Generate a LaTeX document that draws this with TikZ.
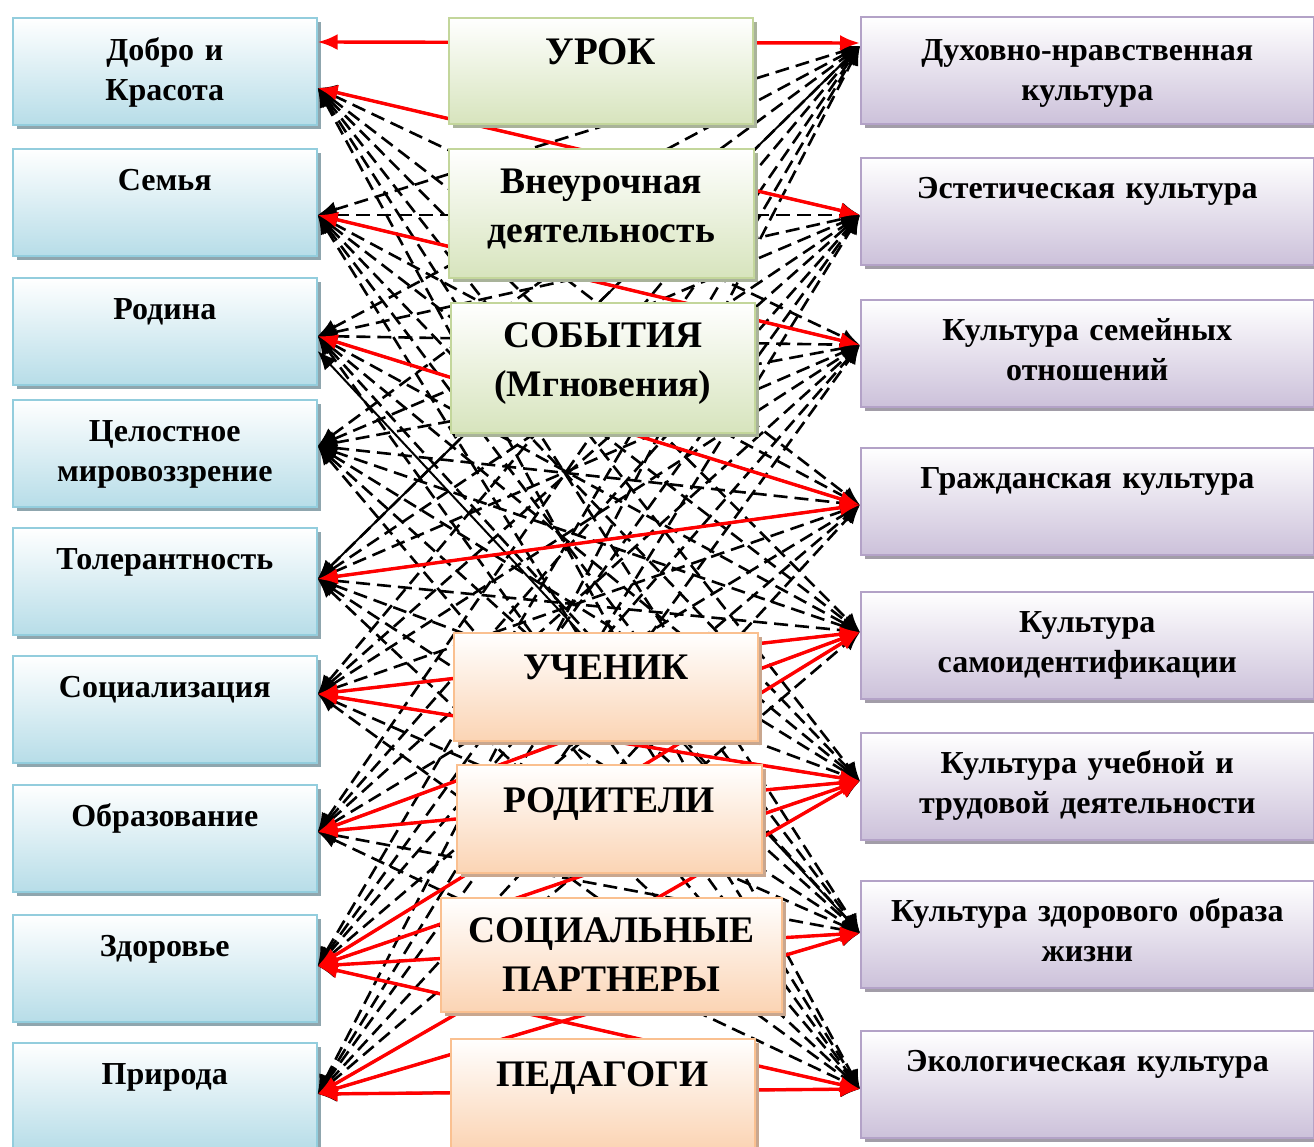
\documentclass[tikz,border=0pt]{standalone}
\usepackage{fontspec}
\setmainfont{Liberation Serif}
\usetikzlibrary{arrows.meta,positioning,shadows}
\definecolor{valuefill}{HTML}{B7DDE8}
\definecolor{valueline}{HTML}{93CDDD}
\definecolor{valueshadow}{HTML}{8FA6AE}
\definecolor{culturefill}{HTML}{CCC1DA}
\definecolor{cultureline}{HTML}{B3A2C7}
\definecolor{cultureshadow}{HTML}{A29DA8}
\definecolor{formfill}{HTML}{D7E4BD}
\definecolor{formline}{HTML}{C3D69B}
\definecolor{formshadow}{HTML}{A9B39A}
\definecolor{actorfill}{HTML}{FBD4B4}
\definecolor{actorline}{HTML}{FAC090}
\definecolor{actorshadow}{HTML}{C9A78F}
\definecolor{linkred}{HTML}{FF0000}
\tikzset{
    box/.style = {draw, line width=1.6pt, inner sep=0pt, anchor=north west, top color=white},
    value/.style = {box, draw=valueline, bottom color=valuefill, minimum width=304pt, minimum height=107pt,
        drop shadow={shadow xshift=4pt, shadow yshift=-4pt, fill=valueshadow, opacity=1}},
    culture/.style = {box, draw=cultureline, bottom color=culturefill, minimum width=453pt, minimum height=107pt,
        drop shadow={shadow xshift=4pt, shadow yshift=-4pt, fill=cultureshadow, opacity=1}},
    form/.style = {box, draw=formline, bottom color=formfill,
        drop shadow={shadow xshift=4pt, shadow yshift=-4pt, fill=formshadow, opacity=1}},
    actor/.style = {box, draw=actorline, bottom color=actorfill,
        drop shadow={shadow xshift=4pt, shadow yshift=-4pt, fill=actorshadow, opacity=1}},
    vtext/.style = {anchor=base, text width=300pt, align=center, inner sep=0pt, font=\bfseries\fontsize{32}{40}\selectfont},
    ctext/.style = {anchor=base, text width=440pt, align=center, inner sep=0pt, font=\bfseries\fontsize{32}{40}\selectfont},
    mtext/.style = {anchor=base, text width=340pt, align=center, inner sep=0pt, font=\bfseries\fontsize{37.5}{49}\selectfont},
    link/.style = {line width=2.6pt, dash pattern=on 14pt off 7pt, {Latex[length=19pt,width=16pt]}-{Latex[length=19pt,width=16pt]}},
    solidlink/.style = {line width=2pt, {Latex[length=19pt,width=16pt]}-{Latex[length=19pt,width=16pt]}},
    redlink/.style = {linkred, line width=3.4pt, {Latex[length=20pt,width=16pt]}-{Latex[length=20pt,width=16pt]}}
}

\begin{document}
\begin{tikzpicture}[x=1pt,y=-1pt]
    \useasboundingbox (0,0) rectangle (1314,1146);
    % Values (left column)
    \node[value] (l1) at (12,17) {};
    \node[value] (l2) at (12,148) {};
    \node[value] (l3) at (12,277) {};
    \node[value] (l4) at (12,399) {};
    \node[value] (l5) at (12,527) {};
    \node[value] (l6) at (12,655) {};
    \node[value] (l7) at (12,784) {};
    \node[value] (l8) at (12,914) {};
    \node[value] (l9) at (12,1042) {};
    \node[vtext] (l1t) at ([yshift=-43pt]l1.north) {Добро и\\Красота};
    \node[vtext] (l2t) at ([yshift=-42pt]l2.north) {Семья};
    \node[vtext] (l3t) at ([yshift=-42pt]l3.north) {Родина};
    \node[vtext] (l4t) at ([yshift=-42pt]l4.north) {Целостное\\мировоззрение};
    \node[vtext] (l5t) at ([yshift=-42pt]l5.north) {Толерантность};
    \node[vtext] (l6t) at ([yshift=-42pt]l6.north) {Социализация};
    \node[vtext] (l7t) at ([yshift=-42pt]l7.north) {Образование};
    \node[vtext] (l8t) at ([yshift=-42pt]l8.north) {Здоровье};
    \node[vtext] (l9t) at ([yshift=-42pt]l9.north) {Природа};
    % Cultures (right column)
    \node[culture] (r1) at (860,16) {};
    \node[culture] (r2) at (860,157) {};
    \node[culture] (r3) at (860,299) {};
    \node[culture] (r4) at (860,447) {};
    \node[culture] (r5) at (860,591) {};
    \node[culture] (r6) at (860,732) {};
    \node[culture] (r7) at (860,880) {};
    \node[culture] (r8) at (860,1030) {};
    \node[ctext] (r1t) at ([yshift=-44pt]r1.north) {Духовно-нравственная\\культура};
    \node[ctext] (r2t) at ([yshift=-41pt]r2.north) {Эстетическая культура};
    \node[ctext] (r3t) at ([yshift=-41pt]r3.north) {Культура семейных\\отношений};
    \node[ctext] (r4t) at ([yshift=-41pt]r4.north) {Гражданская культура};
    \node[ctext] (r5t) at ([yshift=-41pt]r5.north) {Культура\\самоидентификации};
    \node[ctext] (r6t) at ([yshift=-41pt]r6.north) {Культура учебной и\\трудовой деятельности};
    \node[ctext] (r7t) at ([yshift=-41pt]r7.north) {Культура здорового образа\\жизни};
    \node[ctext] (r8t) at ([yshift=-41pt]r8.north) {Экологическая культура};
    % Arrow ends
    \foreach \i/\y in {1/88,2/215,3/336,4/446,5/579,6/694,7/832,8/966,9/1094}
        \coordinate (L\i) at (l\i.east |- 0,\y);
    \foreach \j/\y in {1/46,2/215,3/345,4/505,5/632,6/781,7/933,8/1089}
        \coordinate (R\j) at (r\j.west |- 0,\y);
    \coordinate (L0) at (l1.east |- 0,42);
    \coordinate (R0) at (r1.west |- 0,43);
    \coordinate (L3b) at (l3.east |- 0,351);
    % Dashed links between every value and culture
    \foreach \i in {1,...,9}
        \foreach \j in {1,...,8}
            {\ifnum\i\j=11 \else \draw[link] (L\i) -- (R\j); \fi}
    \draw[solidlink] (L5) -- (R1);
    \draw[solidlink] (L3b) -- (R7);
    % Red links
    \draw[redlink] (L0) -- (R0);
    \foreach \i/\j in {1/2,2/3,3/4,5/4,6/5,6/6,7/5,7/6,8/5,8/6,8/7,8/8,9/6,9/7,9/8}
        \draw[redlink] (L\i) -- (R\j);
    % Forms and actors (middle column)
    \node[form, minimum width=304pt, minimum height=106pt] (m1) at (448,17) {};
    \node[form, minimum width=305pt, minimum height=129pt] (m2) at (448,148) {};
    \node[form, minimum width=304pt, minimum height=130pt] (m3) at (450,302) {};
    \node[actor, minimum width=304pt, minimum height=108pt] (m4) at (453,632) {};
    \node[actor, minimum width=305pt, minimum height=108pt] (m5) at (456,764) {};
    \node[actor, minimum width=341pt, minimum height=114pt] (m6) at (440,897) {};
    \node[actor, minimum width=304pt, minimum height=110pt] (m7) at (450,1038) {};
    \node[mtext, font=\bfseries\fontsize{39}{49}\selectfont] (m1t) at ([yshift=-47pt]m1.north) {УРОК};
    \node[mtext] (m2t) at ([yshift=-45pt]m2.north) {Внеурочная\\деятельность};
    \node[mtext] (m3t) at ([yshift=-45pt]m3.north) {СОБЫТИЯ\\(Мгновения)};
    \node[mtext] (m4t) at ([yshift=-47pt]m4.north) {УЧЕНИК};
    \node[mtext] (m5t) at ([yshift=-48pt]m5.north) {РОДИТЕЛИ};
    \node[mtext] (m6t) at ([yshift=-45pt]m6.north) {СОЦИАЛЬНЫЕ\\ПАРТНЕРЫ};
    \node[mtext] (m7t) at ([yshift=-48pt]m7.north) {ПЕДАГОГИ};
\end{tikzpicture}
\end{document}
